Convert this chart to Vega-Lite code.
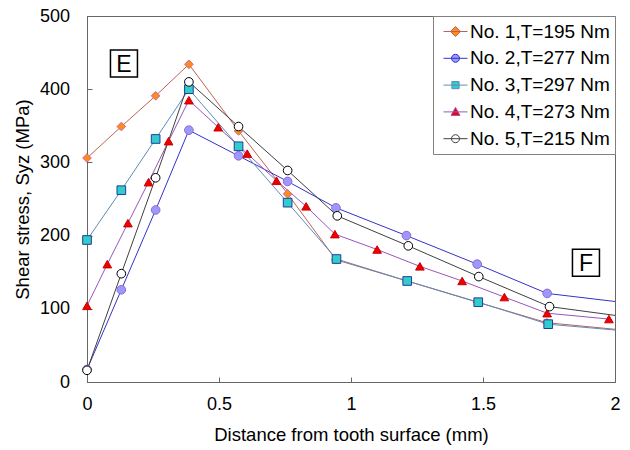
{
  "$schema": "https://vega.github.io/schema/vega-lite/v6.json",
  "width": 528,
  "height": 366,
  "autosize": "none",
  "padding": {"left": 87, "top": 16, "right": 15, "bottom": 68},
  "background": "white",
  "config": {
    "font": "Liberation Sans",
    "view": {"stroke": "#666666", "strokeWidth": 1},
    "axis": {
      "grid": false,
      "domainColor": "#666666",
      "tickColor": "#666666",
      "labelColor": "#000000",
      "titleColor": "#000000",
      "labelFontSize": 18,
      "titleFontSize": 18.5,
      "titleFontWeight": "normal",
      "labelFont": "Liberation Sans",
      "titleFont": "Liberation Sans",
      "tickSize": -5,
      "labelFlush": false
    }
  },
  "datasets": {
    "main": [
      {"s": "No. 1,T=195 Nm", "x": 0, "y": 306},
      {"s": "No. 1,T=195 Nm", "x": 0.13, "y": 349},
      {"s": "No. 1,T=195 Nm", "x": 0.26, "y": 391},
      {"s": "No. 1,T=195 Nm", "x": 0.386, "y": 434},
      {"s": "No. 1,T=195 Nm", "x": 0.574, "y": 343},
      {"s": "No. 1,T=195 Nm", "x": 0.76, "y": 257},
      {"s": "No. 1,T=195 Nm", "x": 0.943, "y": 167},
      {"s": "No. 1,T=195 Nm", "x": 1.212, "y": 138},
      {"s": "No. 1,T=195 Nm", "x": 1.479, "y": 109},
      {"s": "No. 1,T=195 Nm", "x": 1.742, "y": 81},
      {"s": "No. 1,T=195 Nm", "x": 2.0, "y": 72},
      {"s": "No. 2,T=277 Nm", "x": 0, "y": 17},
      {"s": "No. 2,T=277 Nm", "x": 0.13, "y": 126},
      {"s": "No. 2,T=277 Nm", "x": 0.26, "y": 235},
      {"s": "No. 2,T=277 Nm", "x": 0.386, "y": 344},
      {"s": "No. 2,T=277 Nm", "x": 0.574, "y": 309},
      {"s": "No. 2,T=277 Nm", "x": 0.76, "y": 274},
      {"s": "No. 2,T=277 Nm", "x": 0.943, "y": 238},
      {"s": "No. 2,T=277 Nm", "x": 1.21, "y": 200},
      {"s": "No. 2,T=277 Nm", "x": 1.478, "y": 161},
      {"s": "No. 2,T=277 Nm", "x": 1.743, "y": 121},
      {"s": "No. 2,T=277 Nm", "x": 2.0, "y": 110},
      {"s": "No. 3,T=297 Nm", "x": 0, "y": 194},
      {"s": "No. 3,T=297 Nm", "x": 0.13, "y": 262},
      {"s": "No. 3,T=297 Nm", "x": 0.26, "y": 332},
      {"s": "No. 3,T=297 Nm", "x": 0.386, "y": 400},
      {"s": "No. 3,T=297 Nm", "x": 0.574, "y": 322},
      {"s": "No. 3,T=297 Nm", "x": 0.76, "y": 245},
      {"s": "No. 3,T=297 Nm", "x": 0.945, "y": 168},
      {"s": "No. 3,T=297 Nm", "x": 1.213, "y": 138},
      {"s": "No. 3,T=297 Nm", "x": 1.482, "y": 109},
      {"s": "No. 3,T=297 Nm", "x": 1.747, "y": 79},
      {"s": "No. 3,T=297 Nm", "x": 2.0, "y": 71},
      {"s": "No. 4,T=273 Nm", "x": 0, "y": 104},
      {"s": "No. 4,T=273 Nm", "x": 0.077, "y": 161},
      {"s": "No. 4,T=273 Nm", "x": 0.155, "y": 217},
      {"s": "No. 4,T=273 Nm", "x": 0.233, "y": 273},
      {"s": "No. 4,T=273 Nm", "x": 0.309, "y": 329},
      {"s": "No. 4,T=273 Nm", "x": 0.386, "y": 385},
      {"s": "No. 4,T=273 Nm", "x": 0.497, "y": 348},
      {"s": "No. 4,T=273 Nm", "x": 0.607, "y": 312},
      {"s": "No. 4,T=273 Nm", "x": 0.718, "y": 275},
      {"s": "No. 4,T=273 Nm", "x": 0.83, "y": 240},
      {"s": "No. 4,T=273 Nm", "x": 0.939, "y": 202},
      {"s": "No. 4,T=273 Nm", "x": 1.099, "y": 181},
      {"s": "No. 4,T=273 Nm", "x": 1.261, "y": 158},
      {"s": "No. 4,T=273 Nm", "x": 1.421, "y": 138},
      {"s": "No. 4,T=273 Nm", "x": 1.581, "y": 116},
      {"s": "No. 4,T=273 Nm", "x": 1.743, "y": 94},
      {"s": "No. 4,T=273 Nm", "x": 1.977, "y": 86},
      {"s": "No. 5,T=215 Nm", "x": 0, "y": 16},
      {"s": "No. 5,T=215 Nm", "x": 0.13, "y": 148},
      {"s": "No. 5,T=215 Nm", "x": 0.26, "y": 279},
      {"s": "No. 5,T=215 Nm", "x": 0.386, "y": 410},
      {"s": "No. 5,T=215 Nm", "x": 0.574, "y": 349},
      {"s": "No. 5,T=215 Nm", "x": 0.76, "y": 289},
      {"s": "No. 5,T=215 Nm", "x": 0.948, "y": 227},
      {"s": "No. 5,T=215 Nm", "x": 1.217, "y": 186},
      {"s": "No. 5,T=215 Nm", "x": 1.484, "y": 144},
      {"s": "No. 5,T=215 Nm", "x": 1.752, "y": 103},
      {"s": "No. 5,T=215 Nm", "x": 2.0, "y": 91}
    ],
    "notes": [
      {"label": "E", "x": 0.14, "y": 435},
      {"label": "F", "x": 1.89, "y": 163}
    ]
  },
  "encoding": {
    "x": {
      "field": "x", "type": "quantitative",
      "scale": {"domain": [0, 2], "nice": false, "zero": false},
      "axis": {"values": [0, 0.5, 1, 1.5, 2], "format": "~g", "title": "Distance from tooth surface (mm)", "labelPadding": 18, "titlePadding": 12}
    },
    "y": {
      "field": "y", "type": "quantitative",
      "scale": {"domain": [0, 500], "nice": false},
      "axis": {"values": [0, 100, 200, 300, 400, 500], "title": "Shear stress, Syz (MPa)", "labelPadding": 22.5, "titlePadding": 7}
    }
  },
  "layer": [
    {
      "data": {"name": "main"},
      "mark": {"type": "line", "strokeWidth": 1},
      "encoding": {
        "color": {
          "field": "s", "type": "nominal",
          "scale": {"range": ["#c0605a", "#3333cc", "#5b8db8", "#9955bb", "#404040"]},
          "legend": {
            "title": null,
            "orient": "top-right",
            "offset": 0,
            "padding": 5,
            "strokeColor": "#808080",
            "fillColor": "white",
            "labelFontSize": 19,
            "labelFont": "Liberation Sans",
            "labelColor": "#000000",
            "symbolSize": 400,
            "symbolOffset": 7,
            "symbolStrokeWidth": 1,
            "rowPadding": 5.8,
            "labelOffset": 4,
            "encode": {
              "symbols": {
                "update": {
                  "shape": {"signal": "['M-1.2,0L1.2,0M0,-0.5L0.5,0L0,0.5L-0.5,0Z','M-1.2,0L1.2,0M-0.4,0A0.4,0.4,0,1,1,0.4,0A0.4,0.4,0,1,1,-0.4,0Z','M-1.2,0L1.2,0M-0.36,-0.36L0.36,-0.36L0.36,0.36L-0.36,0.36Z','M-1.2,0L1.2,0M0,-0.45L0.45,0.35L-0.45,0.35Z','M-1.2,0L1.2,0M-0.4,0A0.4,0.4,0,1,1,0.4,0A0.4,0.4,0,1,1,-0.4,0Z'][datum.index]"},
                  "fill": {"signal": "['#ff8c1a','#9999ff','#33cccc','#ee0000','#ffffff'][datum.index]"},
                  "stroke": {"signal": "['#c0605a','#3333cc','#5b8db8','#9955bb','#404040'][datum.index]"},
                  "opacity": {"value": 1}
                }
              }
            }
          }
        }
      }
    },
    {
      "data": {"name": "main"},
      "transform": [{"filter": "datum.x < 1.99"}],
      "mark": {"type": "point", "filled": true, "size": 75, "strokeWidth": 1, "opacity": 1},
      "encoding": {
        "shape": {"field": "s", "type": "nominal", "scale": {"range": ["diamond", "circle", "square", "triangle-up", "circle"]}, "legend": null},
        "fill": {"field": "s", "type": "nominal", "scale": {"range": ["#ff8c1a", "#9999ff", "#33cccc", "#ee0000", "#ffffff"]}, "legend": null},
        "stroke": {"field": "s", "type": "nominal", "scale": {"range": ["#cc6699", "#9966cc", "#1f3f99", "#cc0000", "#000000"]}, "legend": null}
      }
    },
    {
      "data": {"name": "notes"},
      "mark": {"type": "point", "shape": "square", "size": 729, "filled": true, "fill": "white", "stroke": "black", "strokeWidth": 1.5, "opacity": 1},
      "encoding": {}
    },
    {
      "data": {"name": "notes"},
      "mark": {"type": "text", "fontSize": 23, "font": "Liberation Sans", "align": "center", "baseline": "middle", "dy": 1, "color": "black"},
      "encoding": {"text": {"field": "label"}}
    }
  ]
}
